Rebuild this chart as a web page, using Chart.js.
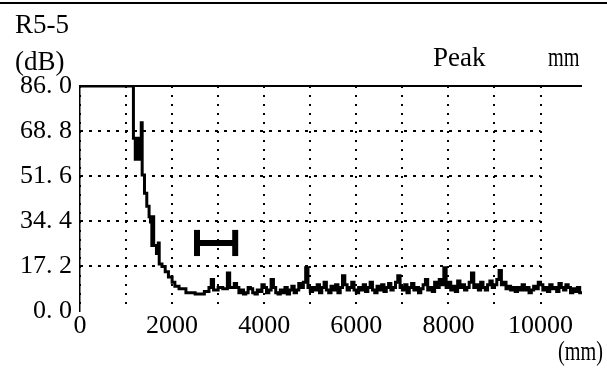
<!DOCTYPE html>
<html>
<head>
<meta charset="utf-8">
<title>R5-5 Peak</title>
<script src="https://cdn.jsdelivr.net/npm/chart.js@4"></script>
<style>
    html, body { margin: 0; padding: 0; background: #fff; }
    #wrap { position: relative; width: 607px; height: 369px; }
</style>
</head>
<body>
<div id="wrap"><canvas id="peakChart" width="607" height="369"></canvas></div>
<script>
// 衰减段: 距离 (mm) 与峰值 (dB)
const dropDistances = [
    0, 1100, 1150, 1160, 1200, 1260, 1300, 1330, 1350, 1400, 1450, 1500, 1530, 1560, 1580, 1600,
    1660, 1700, 1720, 1780, 1850, 1920, 2000, 2060, 2150, 2300, 2500, 2700, 2800, 2850, 2900,
    3000, 3100, 3200, 3250, 3350
];
const dropDb = [
    86, 86, 86, 66, 58, 66, 58, 72, 52, 45, 40, 36, 34, 25, 36, 25,
    22, 26, 18, 17, 15, 13, 11, 9.5, 8.5, 7, 6.5, 7.5, 9, 12, 8,
    9, 8.5, 14.5, 9, 10.5
];

// 噪声段: 3400 mm 起每 50 mm 一个采样
const floorStart = 3400;
const floorStep = 50;
const floorDb = [
    9, 7, 8, 6.5, 7, 9, 8.5, 7, 6.5, 8, 7.5, 10, 9, 7, 8, 12, 9, 7, 6.5, 8,
    7, 9, 6.5, 8, 9.5, 7, 8, 10.5, 9, 11, 16.5, 9, 7.5, 9, 8, 10, 7, 9, 11, 8,
    7, 9.5, 8, 10, 7, 9, 13.5, 10, 8, 9, 11, 8, 7, 9, 8, 10, 7.5, 9, 11, 8,
    7, 9.5, 8, 10, 7.5, 9, 10.5, 8, 9, 11, 13.5, 9, 8, 10, 7, 9, 10.5, 8, 9, 7,
    8.5, 10, 12, 8, 9, 7.5, 11, 9, 12, 10, 16.5, 9, 11, 8, 9.5, 7.5, 11.5, 9, 10, 8,
    9, 11, 14.5, 9, 10, 8, 11, 9, 8, 10, 11.5, 9, 10, 12, 15.5, 10, 11, 8.5, 9.5, 8,
    9, 7.5, 9, 8, 10, 8, 9, 7, 8, 9.5, 8.5, 11, 10, 8, 9, 7.5, 10, 8.5, 9, 7.5,
    10.5, 9, 8, 10, 9, 7, 8.5, 7.5, 9, 7, 7.5
];

// 光标标记
const cursorX = [2540, 3370];
const cursorDb = 26;
const cursorCap = [21, 31];

// 刻度
const xGridTicks = [0, 1000, 2000, 3000, 4000, 5000, 6000, 7000, 8000, 9000, 10000];
const yTicks = [0, 17.2, 34.4, 51.6, 68.8, 86.0];
const xMax = 10900;

const serif = "'Liberation Serif', 'Times New Roman', serif";

function fmtDb(v) {
    return v.toFixed(1).replace('.', '. ');
}

function buildTrace() {
    const pts = dropDistances.map((d, i) => ({ x: d, y: dropDb[i] }));
    floorDb.forEach((v, i) => {
        pts.push({ x: floorStart + i * floorStep, y: v });
    });
    return pts;
}

// 网格线与标题
const framePlugin = {
    id: 'frame',
    beforeDatasetsDraw(chart) {
        const { ctx, chartArea, scales } = chart;
        ctx.save();
        ctx.strokeStyle = '#000';
        ctx.lineWidth = 2;
        ctx.setLineDash([3, 6]);
        yTicks.forEach(v => {
            if (v === 0 || v === 86) return;
            const y = Math.round(scales.y.getPixelForValue(v));
            ctx.beginPath();
            ctx.moveTo(scales.x.getPixelForValue(0), y);
            ctx.lineTo(scales.x.getPixelForValue(10000), y);
            ctx.stroke();
        });
        ctx.setLineDash([]);
        ctx.lineWidth = 2;
        ctx.beginPath();
        ctx.moveTo(chartArea.left, chartArea.top);
        ctx.lineTo(chartArea.right, chartArea.top);
        ctx.stroke();
        ctx.restore();
    },
    afterDraw(chart) {
        const ctx = chart.ctx;
        ctx.save();
        ctx.fillStyle = '#000';
        ctx.strokeStyle = '#000';
        ctx.lineWidth = 2;
        ctx.beginPath();
        ctx.moveTo(0, 3);
        ctx.lineTo(chart.width, 3);
        ctx.stroke();

        ctx.font = '27px ' + serif;
        ctx.textBaseline = 'alphabetic';
        ctx.textAlign = 'left';
        ctx.fillText('R5-5', 15, 33);
        ctx.fillText('(dB)', 15, 70);
        ctx.fillText('Peak', 433, 66);

        // 窄体单位
        ctx.save();
        ctx.translate(548, 66);
        ctx.scale(0.75, 1);
        ctx.fillText('mm', 0, 0);
        ctx.restore();

        ctx.save();
        ctx.translate(558, 360);
        ctx.scale(0.75, 1);
        ctx.fillText('(mm)', 0, 0);
        ctx.restore();
        ctx.restore();
    }
};

const lineStyle = {
    borderColor: '#000',
    pointRadius: 0,
    fill: false,
    tension: 0
};

new Chart(document.getElementById('peakChart'), {
    type: 'line',
    data: {
        datasets: [
            {
                label: 'Peak',
                data: buildTrace(),
                borderWidth: 3,
                stepped: 'before',
                ...lineStyle
            },
            {
                label: 'cursor',
                data: cursorX.map(d => ({ x: d, y: cursorDb })),
                borderWidth: 6,
                ...lineStyle
            },
            {
                label: 'capL',
                data: cursorCap.map(v => ({ x: cursorX[0], y: v })),
                borderWidth: 6,
                ...lineStyle
            },
            {
                label: 'capR',
                data: cursorCap.map(v => ({ x: cursorX[1], y: v })),
                borderWidth: 6,
                ...lineStyle
            }
        ]
    },
    options: {
        responsive: false,
        animation: false,
        devicePixelRatio: 1,
        layout: { padding: { left: 0, right: 25, top: 86, bottom: 0 } },
        plugins: {
            legend: { display: false },
            tooltip: { enabled: false }
        },
        scales: {
            x: {
                type: 'linear',
                min: 0,
                max: xMax,
                afterBuildTicks: axis => { axis.ticks = xGridTicks.map(v => ({ value: v })); },
                afterFit: axis => { axis.height = 58; },
                border: { display: false, dash: [2, 7] },
                grid: {
                    color: '#000',
                    lineWidth: 2,
                    drawTicks: false
                },
                ticks: {
                    color: '#000',
                    font: { family: serif, size: 26 },
                    padding: 0,
                    maxRotation: 0,
                    autoSkip: false,
                    callback: v => (v % 2000 === 0 ? String(v) : '')
                }
            },
            y: {
                min: 0,
                max: 86,
                afterBuildTicks: axis => { axis.ticks = yTicks.map(v => ({ value: v })); },
                afterFit: axis => { axis.width = 80; },
                border: { display: true, color: '#000', width: 1.5 },
                grid: { display: false, drawTicks: false },
                ticks: {
                    color: '#000',
                    font: { family: serif, size: 26 },
                    padding: 8,
                    callback: v => fmtDb(v)
                }
            }
        }
    },
    plugins: [framePlugin]
});
</script>
</body>
</html>
